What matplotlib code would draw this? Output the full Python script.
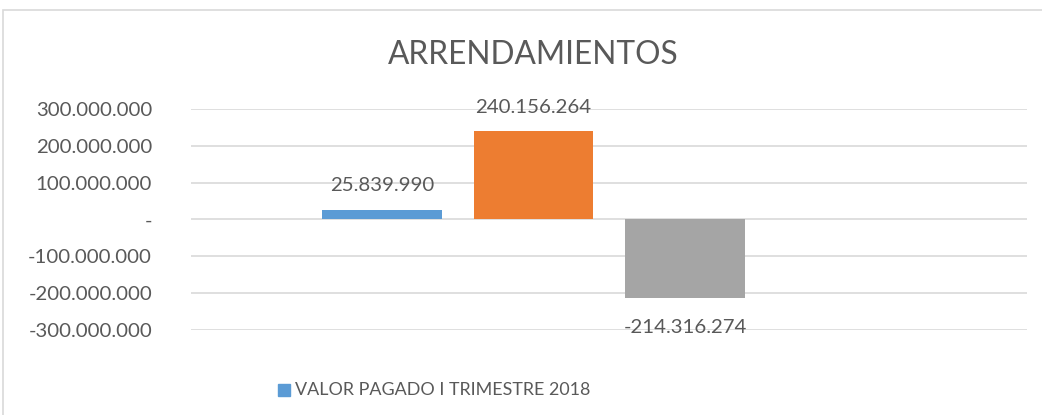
import matplotlib
matplotlib.use("Agg")
import matplotlib.pyplot as plt
from matplotlib.patches import Rectangle
from matplotlib.ticker import FuncFormatter

# Data
title = "ARRENDAMIENTOS"
legend_label = "VALOR PAGADO I TRIMESTRE 2018"
values = [25839990, 240156264, -214316274]
colors = ["#5B9BD5", "#ED7D31", "#A5A5A5"]
yticks = [-300000000, -200000000, -100000000, 0, 100000000, 200000000, 300000000]

text_color = "#595959"
plt.rcParams["font.family"] = ["Lato", "DejaVu Sans"]


def fmt_miles(v, pos=None):
    if v == 0:
        return "-"
    s = f"{abs(int(round(v))):,}".replace(",", ".")
    return ("-" if v < 0 else "") + s


fig = plt.figure(figsize=(10.42, 4.15), dpi=100)
ax = fig.add_axes([191 / 1042, 1 - 330 / 415, 836 / 1042, 221 / 415])

x = list(range(len(values)))
bars = ax.bar(x, values, width=0.79, color=colors, zorder=3)

ax.set_xlim(-1.261, 4.257)
ax.set_ylim(-300000000, 300000000)
ax.set_yticks(yticks)
ax.yaxis.set_major_formatter(FuncFormatter(fmt_miles))
ax.tick_params(axis="y", length=0, pad=28, labelsize=14.7, labelcolor=text_color)
ax.set_xticks([])
ax.grid(axis="y", color="#D9D9D9", linewidth=1.2, zorder=0)
for sp in ax.spines.values():
    sp.set_visible(False)

# data labels
for xi, v in zip(x, values):
    off = 24 if v >= 0 else -29
    ax.annotate(fmt_miles(v), (xi, v), xytext=(0, off), textcoords="offset pixels",
                ha="center", va="center", fontsize=14.7, color=text_color)

fig.text(533 / 1042, 1 - 55 / 415, title, ha="center", va="center",
         fontsize=22.8, color=text_color)

# legend
fig.patches.append(Rectangle((278 / 1042, 1 - 396 / 415), 12 / 1042, 12 / 415,
                             transform=fig.transFigure, color=colors[0]))
fig.text(295 / 1042, 1 - 390 / 415, legend_label, ha="left", va="center",
         fontsize=12.9, color=text_color)

# chart frame
fig.patches.append(Rectangle((3 / 1042, -0.05), 1.2, 1 - 10 / 415 + 0.05,
                             transform=fig.transFigure, fill=False,
                             edgecolor="#D9D9D9", linewidth=1.2))

fig.savefig("out.png", dpi=100)
